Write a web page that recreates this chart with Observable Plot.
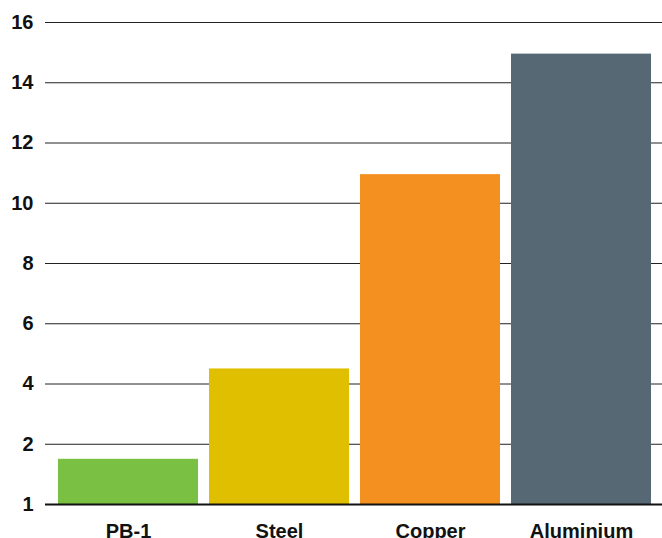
<!DOCTYPE html>
<html><head><meta charset="utf-8">
<script src="https://cdn.jsdelivr.net/npm/d3@7"></script>
<script src="https://cdn.jsdelivr.net/npm/@observablehq/plot@0.6"></script>
<style>body{margin:0;background:#fff}</style>
</head><body><div id="chart"></div>
<script>
const categories = ["PB-1", "Steel", "Copper", "Aluminium"];
const values = [1.5, 4.5, 10.95, 14.95];
const colors = ["#7AC143", "#DFBF00", "#F3901F", "#566874"];
const yTicks = [0, 2, 4, 6, 8, 10, 12, 14, 16];
const yTickLabels = ["1", "2", "4", "6", "8", "10", "12", "14", "16"];

const data = categories.map((c, i) => ({category: c, value: values[i]}));

const chart = Plot.plot({
  width: 662,
  height: 538,
  marginTop: 22,
  marginBottom: 34,
  marginLeft: 51,
  marginRight: 4,
  style: {fontFamily: "'Liberation Sans', Arial, sans-serif", background: "#fff"},
  x: {domain: categories, paddingInner: 0.076, paddingOuter: 0.038, label: null},
  y: {domain: [0, 16], label: null},
  color: {domain: categories, range: colors},
  marks: [
    Plot.ruleY(yTicks.slice(1), {stroke: "#222", strokeWidth: 1, insetLeft: -6, insetRight: -4}),
    Plot.barY(data, {x: "category", y: "value", fill: "category"}),
    Plot.ruleY([0], {stroke: "#111", strokeWidth: 2, insetLeft: -6, insetRight: -4}),
    Plot.axisY({ticks: yTicks, tickFormat: (d) => yTickLabels[yTicks.indexOf(d)], tickSize: 0, tickPadding: 18, fontSize: 20, fontWeight: "bold", fill: "#111"}),
    Plot.axisX({tickSize: 0, tickPadding: 19, fontSize: 20, fontWeight: "bold", fill: "#111"})
  ]
});
document.getElementById("chart").appendChild(chart);
</script>
</body></html>
